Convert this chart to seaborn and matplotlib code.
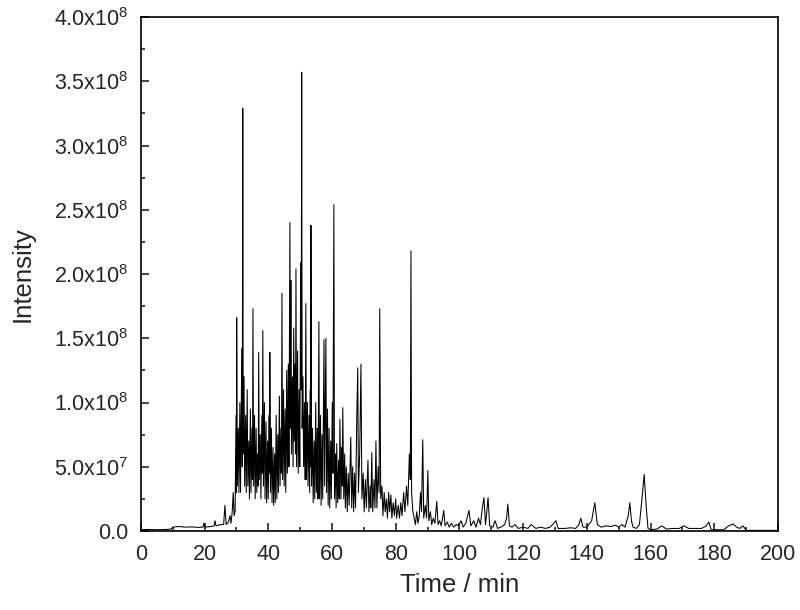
import numpy as np
import pandas as pd
import matplotlib
matplotlib.use("Agg")
import matplotlib.pyplot as plt
import seaborn as sns
from matplotlib.ticker import MultipleLocator, FuncFormatter

# chromatogram trace (time in min, intensity in 1e8 counts)
time_min = [
    0, 2, 5, 8, 9.5, 10, 12, 14, 16, 18, 19.5, 19.8, 20.1, 22, 23, 23.3, 23.6, 25, 26, 26.4,
    26.8, 27.5, 28, 28.3, 28.7, 29.0, 29.3, 29.6, 29.9, 30.0, 30.1, 30.3, 30.6, 30.8, 31.1, 31.3,
    31.7, 31.85, 32.0, 32.15, 32.4, 32.6, 32.9, 33.1, 33.4, 33.6, 33.9, 34.1, 34.4, 34.6, 34.9,
    35.05, 35.2, 35.4, 35.7, 35.9, 36.2, 36.4, 36.7, 36.85, 37.0, 37.2, 37.5, 37.7, 38.0, 38.15,
    38.3, 38.5, 38.8, 39.0, 39.3, 39.5, 39.8, 40.0, 40.3, 40.4, 40.5, 40.7, 41.0, 41.2, 41.5,
    41.7, 42.0, 42.2, 42.5, 42.7, 43.0, 43.2, 43.5, 43.7, 44.0, 44.15, 44.3, 44.5, 44.8, 45.0,
    45.3, 45.5, 45.8, 46.0, 46.3, 46.5, 46.8, 46.95, 47.1, 47.3, 47.6, 47.8, 48.0, 48.2, 48.4,
    48.55, 48.7, 48.9, 49.2, 49.4, 49.7, 49.9, 50.2, 50.35, 50.5, 50.65, 50.9, 51.1, 51.4, 51.6,
    51.8, 52.0, 52.3, 52.5, 52.8, 53.0, 53.2, 53.3, 53.4, 53.6, 53.9, 54.1, 54.4, 54.6, 54.9,
    55.1, 55.4, 55.6, 55.9, 56.1, 56.4, 56.6, 56.9, 57.1, 57.5, 57.7, 58.1, 58.3, 58.6, 58.8,
    59.1, 59.3, 59.6, 59.8, 60.1, 60.3, 60.6, 60.8, 61.1, 61.3, 61.5, 61.8, 62.1, 62.3, 62.5,
    62.8, 63.1, 63.2, 63.4, 63.7, 64.0, 64.2, 64.5, 64.8, 65.1, 65.4, 65.9, 66.2, 66.5, 66.8,
    67.1, 67.4, 67.8, 68.1, 68.3, 68.7, 69.1, 69.4, 69.8, 70.1, 70.5, 70.8, 71.3, 71.6, 72.0,
    72.2, 72.5, 72.8, 73.2, 73.5, 73.8, 74.1, 74.5, 74.8, 75.0, 75.3, 75.7, 76.0, 76.4, 76.7,
    77.1, 77.4, 77.8, 78.1, 78.5, 78.8, 79.2, 79.6, 80.0, 80.3, 80.8, 81.2, 81.6, 82.0, 82.5,
    82.9, 83.4, 83.8, 84.3, 84.6, 84.8, 85.0, 85.4, 85.8, 86.2, 86.6, 87.0, 87.4, 87.8, 88.1,
    88.5, 88.8, 89.3, 89.7, 90.1, 90.4, 90.9, 91.3, 91.8, 92.3, 92.9, 93.3, 93.8, 94.3, 95.1,
    95.5, 96.2, 96.8, 97.5, 98.2, 99.0, 99.8, 100.5, 101.2, 102, 103, 103.6, 104.5, 105.2, 106,
    106.6, 107.2, 107.7, 108.2, 108.6, 109.0, 109.5, 110.5, 111.2, 112, 113, 114.2, 114.8,
    115.2, 115.7, 116.5, 117.5, 118.5, 120, 121.5, 122.5, 124, 125.5, 127, 128.5, 130.3, 131,
    133, 135, 136.5, 137.5, 138.1, 138.8, 140, 141.5, 142.5, 143.3, 144.5, 146, 147.5, 149, 150,
    151, 152, 153, 153.5, 154, 154.5, 155.5, 156.5, 157.3, 158, 158.6, 159.2, 160, 162, 163.5,
    165, 167, 169, 170.5, 172, 174, 176, 177.5, 178.3, 179, 181, 183, 184.5, 185.9, 187, 188,
    189, 190, 195, 199.5,
]
intensity_e8 = [
    0.01, 0.012, 0.01, 0.012, 0.015, 0.03, 0.035, 0.03, 0.032, 0.028, 0.03, 0.06, 0.03, 0.035,
    0.04, 0.08, 0.04, 0.05, 0.05, 0.2, 0.05, 0.07, 0.12, 0.06, 0.15, 0.3, 0.12, 0.15, 0.9, 0.3,
    1.66, 0.35, 0.8, 0.3, 1.0, 0.3, 1.42, 0.5, 3.29, 0.6, 1.2, 0.35, 0.9, 0.3, 1.1, 0.35, 0.7,
    0.25, 0.95, 0.3, 0.8, 0.4, 1.73, 0.35, 0.9, 0.25, 0.8, 0.3, 0.6, 0.35, 1.39, 0.4, 0.75, 0.25,
    0.9, 0.45, 1.56, 0.35, 1.0, 0.25, 0.85, 0.22, 0.7, 0.25, 0.9, 0.45, 1.39, 0.3, 0.8, 0.22, 0.65,
    0.2, 0.6, 0.22, 0.9, 0.25, 0.75, 0.3, 1.05, 0.35, 0.8, 0.45, 1.85, 0.4, 1.1, 0.35, 0.95, 0.3,
    1.25, 0.45, 1.3, 0.5, 2.40, 0.8, 1.95, 0.6, 1.2, 0.5, 1.58, 0.7, 1.3, 0.6, 2.04, 0.5, 1.4,
    0.45, 1.1, 0.5, 2.09, 1.1, 3.57, 0.8, 1.2, 0.5, 1.0, 0.4, 1.77, 0.4, 1.0, 0.35, 0.9, 0.3,
    1.1, 0.5, 2.38, 0.35, 0.8, 0.22, 0.7, 0.25, 1.0, 0.3, 0.8, 0.25, 1.63, 0.25, 0.9, 0.2, 0.75,
    0.25, 1.49, 0.35, 1.50, 0.3, 0.95, 0.2, 0.8, 0.18, 0.7, 0.25, 1.0, 0.45, 2.54, 0.25, 0.6, 0.18,
    0.68, 0.22, 0.55, 0.25, 0.87, 0.25, 0.65, 0.35, 0.96, 0.25, 0.6, 0.18, 0.5, 0.15, 0.45, 0.2,
    0.73, 0.18, 0.5, 0.15, 0.45, 0.18, 0.9, 1.27, 0.3, 0.6, 1.30, 0.25, 0.45, 0.15, 0.4, 0.18, 0.55,
    0.15, 0.35, 0.18, 0.61, 0.15, 0.4, 0.18, 0.70, 0.18, 0.5, 0.3, 1.73, 0.25, 0.35, 0.12, 0.3,
    0.15, 0.25, 0.1, 0.3, 0.15, 0.28, 0.1, 0.22, 0.12, 0.25, 0.1, 0.2, 0.1, 0.22, 0.12, 0.3,
    0.15, 0.35, 0.2, 0.6, 0.4, 2.18, 0.3, 0.15, 0.1, 0.05, 0.15, 0.06, 0.12, 0.3, 0.15, 0.71,
    0.1, 0.2, 0.1, 0.47, 0.08, 0.15, 0.05, 0.1, 0.06, 0.23, 0.05, 0.08, 0.04, 0.16, 0.04, 0.07,
    0.03, 0.06, 0.03, 0.05, 0.04, 0.08, 0.03, 0.06, 0.16, 0.04, 0.08, 0.03, 0.1, 0.05, 0.18,
    0.26, 0.05, 0.15, 0.26, 0.04, 0.03, 0.08, 0.02, 0.03, 0.05, 0.1, 0.21, 0.04, 0.03, 0.05,
    0.02, 0.03, 0.02, 0.05, 0.02, 0.03, 0.02, 0.03, 0.08, 0.02, 0.02, 0.025, 0.02, 0.05, 0.10,
    0.03, 0.03, 0.08, 0.22, 0.05, 0.03, 0.04, 0.035, 0.045, 0.03, 0.05, 0.03, 0.12, 0.22, 0.08,
    0.03, 0.02, 0.05, 0.25, 0.44, 0.2, 0.02, 0.01, 0.015, 0.04, 0.015, 0.02, 0.02, 0.04, 0.02,
    0.02, 0.02, 0.04, 0.07, 0.01, 0.01, 0.01, 0.04, 0.055, 0.03, 0.02, 0.04, 0.005, 0.005, 0.005,
]

df = pd.DataFrame({"time": time_min, "intensity": np.array(intensity_e8) * 1e8})

sns.set_style("ticks")
plt.rcParams["font.family"] = ["Liberation Sans", "DejaVu Sans"]
plt.rcParams["mathtext.fontset"] = "custom"
plt.rcParams["mathtext.rm"] = "Liberation Sans"
plt.rcParams["mathtext.it"] = "Liberation Sans"

fig = plt.figure(figsize=(8, 6.1), dpi=100)
ax = fig.add_axes([0.176, 0.1295, 0.7965, 0.8425])

sns.lineplot(data=df, x="time", y="intensity", ax=ax, color="black",
             linewidth=0.75, estimator=None, sort=False)

ax.set_xlim(0, 200)
ax.set_ylim(0, 4.0e8)
ax.xaxis.set_major_locator(MultipleLocator(20))
ax.xaxis.set_minor_locator(MultipleLocator(10))
ax.yaxis.set_major_locator(MultipleLocator(0.5e8))
ax.yaxis.set_minor_locator(MultipleLocator(0.25e8))


def sci_fmt(v, pos):
    if v <= 0:
        return "0.0"
    exp = int(np.floor(np.log10(v)))
    return r"%.1fx10$^{%d}$" % (v / 10 ** exp, exp)


ax.yaxis.set_major_formatter(FuncFormatter(sci_fmt))
ax.tick_params(which="both", direction="in", top=False, right=False, labelsize=15.5, width=1.2)
ax.tick_params(which="major", length=6, pad=9)
ax.tick_params(which="minor", length=3)
for sp in ax.spines.values():
    sp.set_visible(True)
    sp.set_linewidth(1.2)
    sp.set_color("black")

ax.set_xlabel("Time / min", fontsize=18.5, labelpad=6)
ax.set_ylabel("Intensity", fontsize=18.5, labelpad=14)

fig.savefig("out.png", dpi=100)
